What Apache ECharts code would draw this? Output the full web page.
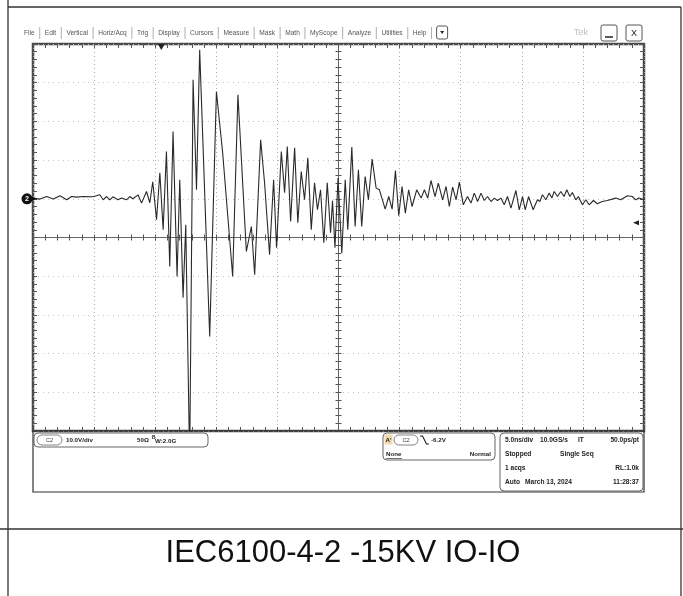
<!DOCTYPE html>
<html><head><meta charset="utf-8">
<script src="https://cdn.jsdelivr.net/npm/echarts@6/dist/echarts.min.js"></script>
<style>html,body{margin:0;padding:0;background:#fff}#c{width:683px;height:596px}</style>
</head><body><div id="c"></div>
<script>
// ---- waveform (time in ns relative to screen centre, volts relative to CH2 ground) ----
const timeNs = [
 -25.0,-24.43,-23.88,-23.34,-22.79,-22.25,-21.84,-21.43,-20.89,-20.10,
 -19.53,-19.26,-18.98,-18.71,-18.46,-18.05,-17.75,-17.35,-17.08,-16.83,
 -16.40,-16.12,-15.71,-15.44,-15.20,-14.89,-14.62,-14.35,-14.08,-13.81,
 -13.54,-13.21,-12.99,-12.72,-12.50,-12.18,-11.90,-11.62,-11.36,-10.54,
 -9.99,-9.48,-8.66,-8.23,-7.54,-7.13,-6.86,-6.37,-6.05,-5.64,
 -5.31,-5.07,-4.68,-4.41,-4.19,-3.92,-3.59,-3.33,-3.05,-2.78,
 -2.51,-2.23,-1.96,-1.72,-1.47,-1.20,-0.92,-0.65,-0.49,-0.29,
 -0.04,0.27,0.55,0.76,1.09,1.36,1.63,1.90,2.18,2.45,
 2.75,3.08,3.35,3.82,4.11,4.39,4.66,4.93,5.20,5.47,
 5.74,6.02,6.40,6.76,7.03,7.30,7.57,7.90,8.17,8.52,
 8.80,9.07,9.34,9.62,9.89,10.21,10.56,10.84,11.11,11.38,
 11.66,11.93,12.20,12.48,12.75,13.01,13.29,13.56,13.83,14.11,
 14.52,14.79,15.06,15.28,15.55,15.93,16.28,16.48,16.69,16.97,
 17.24,17.46,17.65,17.92,18.19,18.46,18.68,18.93,19.14,19.42,
 19.63,19.96,20.24,20.51,20.86,21.18,21.59,22.00,22.69,23.10,
 23.64,24.04,24.32,24.59,25.0
];
const voltsV = [
 0.18,-0.08,0.59,-0.08,0.78,-0.26,0.59,0.44,0.59,0.52,
 1.03,-0.26,0.59,-0.26,0.52,-0.26,0.18,-0.26,0.59,0.0,
 1.03,-1.11,1.89,-1.03,4.39,-5.43,6.72,-8.01,12.22,-17.49,
 17.39,-20.08,4.91,-25.58,-6.72,-68,30.75,2.33,38.50,-35.58,
 27.73,11.89,-20.08,26.87,-13.62,-7.16,-19.64,15.25,4.13,-14.47,
 4.91,-12.66,12.22,1.55,13.51,-5.87,13.18,-6.20,7.05,-0.26,
 10.59,-8.01,4.13,-2.84,2.33,-11.37,4.13,-8.79,-0.52,-12.66,
 5.35,-14.03,4.91,-8.01,13.36,-7.16,7.49,-7.16,5.76,-0.26,
 10.26,2.76,2.33,-2.66,0.59,-2.66,7.31,-4.39,3.18,-3.70,
 2.33,-1.99,2.33,0.18,2.33,0.18,4.73,0.59,4.06,-0.26,
 3.18,-1.99,3.02,-0.26,4.32,-1.55,0.59,-1.11,1.47,-0.70,
 1.47,-0.44,0.59,-0.70,0.18,-0.44,0.18,-1.55,0.59,-2.40,
 2.14,-2.84,0.59,-2.84,0.59,-2.84,-0.26,-0.70,1.03,-0.26,
 1.47,0.18,1.89,0.59,1.89,0.59,2.33,0.59,1.63,-0.26,
 0.59,-1.55,-0.26,-1.55,-0.44,-1.29,-0.70,-0.44,0.18,-0.26,
 0.78,0.59,-0.26,0.18,-0.26
];
const trigLevelV = -6.2;
const trigPosNs = -14.5;
const timeRange = [-25, 25];      // 5.0 ns/div, 10 div
const voltRange = [-60, 40];      // 10.0 V/div, ground 1 div above centre
const menuItems = ['File','Edit','Vertical','Horiz/Acq','Trig','Display','Cursors','Measure','Mask','Math','MyScope','Analyze','Utilities','Help'];
const chText = ['C2','10.0V/div','50Ω','B','W:2.0G'];
const trigText = ["A'",'C2','-6.2V','None','Normal'];
const acqRows = [
  ['5.0ns/div','10.0GS/s','IT','50.0ps/pt'],
  ['Stopped','Single Seq'],
  ['1 acqs','RL:1.0k'],
  ['Auto','March 13, 2024','11:28:37']
];
const titleText = 'IEC6100-4-2 -15KV IO-IO';

// ---- build ----
const seriesData = timeNs.map((t, i) => [t, voltsV[i]]);
const tickStyle = {color: '#555', width: 1};
const gridDotV = {color: '#a8a8a8', width: 1, type: [1, 3]};
const gridDotH = {color: '#c4c4c4', width: 1, type: [1, 4]};

function edgeAxis(range, interval, pos, split) {
  return {type: 'value', min: range[0], max: range[1], interval: interval, position: pos,
    axisLine: {show: false, onZero: false},
    axisTick: {show: true, inside: true, length: 4, lineStyle: tickStyle},
    minorTick: {show: true, splitNumber: 5, length: 4, lineStyle: tickStyle},
    axisLabel: {show: false},
    splitLine: {show: !!split, lineStyle: split || gridDotV}};
}
function centreAxis(range, interval, pos, inside, zeroIdx) {
  return {type: 'value', min: range[0], max: range[1], interval: interval, position: pos,
    axisLine: {show: true, onZero: true, onZeroAxisIndex: zeroIdx, lineStyle: {color: '#666', width: 1}},
    axisTick: {show: true, inside: inside, length: 3, lineStyle: tickStyle},
    minorTick: {show: true, splitNumber: 5, length: 3, lineStyle: tickStyle},
    axisLabel: {show: false}, splitLine: {show: false}};
}

const mctx = document.createElement('canvas').getContext('2d');
function tw(s, font) { mctx.font = font; return mctx.measureText(s).width; }
function txt(x, y, s, font, fill, align) {
  return {type: 'text', x: x, y: y, silent: true, z: 10,
    style: {text: s, font: font, fill: fill || '#222', align: align || 'left', textAlign: align || 'left',
      verticalAlign: 'middle', textVerticalAlign: 'middle'}};
}
function rect(x, y, w, h, r, stroke, fill, lw) {
  return {type: 'rect', shape: {x: x, y: y, width: w, height: h, r: r}, silent: true, z: 9,
    style: {stroke: stroke, fill: fill || 'none', lineWidth: lw || 1}};
}
function line(x1, y1, x2, y2, stroke, lw) {
  return {type: 'line', shape: {x1: x1, y1: y1, x2: x2, y2: y2}, silent: true, z: 9,
    style: {stroke: stroke, lineWidth: lw || 1}};
}

const deco = [];
// outer table
deco.push(line(8, 0, 8, 596, '#333', 1.3));
deco.push(line(8, 7, 681, 7, '#333', 1.3));
deco.push(line(681, 7, 681, 596, '#333', 1.3));
deco.push(line(0, 529, 683, 529, '#333', 1.3));
// screenshot lower frame
deco.push(rect(33, 431, 611, 61, 0, '#333', 'none', 1.2));

// menu bar
const menuFont = '6.6px "Liberation Sans"';
let mx = 24;
menuItems.forEach(m => {
  deco.push(txt(mx, 33, m, menuFont, '#555'));
  mx += tw(m, menuFont) + 5.1;
  deco.push(line(mx, 27, mx, 39, '#999', 0.8));
  mx += 5.1;
});
deco.push(rect(mx, 26, 11, 13, 2, '#555', 'none', 1));
deco.push({type: 'polygon', silent: true, z: 10, shape: {points: [[mx + 3.5, 31], [mx + 7.5, 31], [mx + 5.5, 34]]}, style: {fill: '#222'}});
deco.push(txt(574, 33, 'Tek', '9px "Liberation Sans"', '#bdbdbd'));
deco.push(rect(601, 25, 16, 16, 2, '#555', 'none', 1));
deco.push(line(605, 37, 613, 37, '#222', 1.5));
deco.push(rect(626, 25, 16, 16, 2, '#555', 'none', 1));
deco.push(txt(634, 33.5, 'X', '9px "Liberation Sans"', '#222', 'center'));

// status: channel box
const sFont = 'bold 6.2px "Liberation Sans"';
deco.push(rect(34, 433, 174, 14, 4, '#666', 'none', 1));
deco.push(rect(37, 435, 25, 10, 5, '#666', 'none', 0.8));
deco.push(txt(49.5, 440, chText[0], '5.5px "Liberation Sans"', '#333', 'center'));
deco.push(txt(66, 440, chText[1], sFont));
deco.push(txt(137, 440, chText[2], sFont));
deco.push(txt(152, 437.5, chText[3], 'bold 5px "Liberation Sans"'));
deco.push(txt(155, 441, chText[4], sFont));

// status: trigger box
deco.push(rect(383, 433, 112, 27, 4, '#666', 'none', 1));
deco.push(rect(384.5, 434.5, 8, 10, 0, 'none', '#f2d8b0', 0));
deco.push(txt(385.5, 440, trigText[0], sFont));
deco.push(rect(394, 435, 24, 10, 5, '#666', 'none', 0.8));
deco.push(txt(406, 440, trigText[1], '5.5px "Liberation Sans"', '#333', 'center'));
deco.push({type: 'polyline', silent: true, z: 10, shape: {points: [[420, 436], [422.5, 436], [426.5, 444], [429, 444]]}, style: {stroke: '#222', lineWidth: 1.1, fill: 'none'}});
deco.push(txt(431, 440, trigText[2], sFont));
deco.push(txt(386, 454, trigText[3], sFont));
deco.push(line(386, 458.5, 402, 458.5, '#333', 0.7));
deco.push(txt(491, 454, trigText[4], sFont, '#222', 'right'));

// status: acquisition box
const aFont = 'bold 6.6px "Liberation Sans"';
deco.push(rect(500, 433, 143, 58, 4, '#666', 'none', 1));
const rowY = [440, 454, 468, 482.5];
deco.push(txt(505, rowY[0], acqRows[0][0], aFont));
deco.push(txt(540, rowY[0], acqRows[0][1], aFont));
deco.push(txt(578, rowY[0], acqRows[0][2], aFont));
deco.push(txt(639, rowY[0], acqRows[0][3], aFont, '#222', 'right'));
deco.push(txt(505, rowY[1], acqRows[1][0], aFont));
deco.push(txt(560, rowY[1], acqRows[1][1], aFont));
deco.push(txt(505, rowY[2], acqRows[2][0], aFont));
deco.push(txt(639, rowY[2], acqRows[2][1], aFont, '#222', 'right'));
deco.push(txt(505, rowY[3], acqRows[3][0], aFont));
deco.push(txt(525, rowY[3], acqRows[3][1], aFont));
deco.push(txt(639, rowY[3], acqRows[3][2], aFont, '#222', 'right'));

// title cell
deco.push(txt(343, 553, titleText, '31px "Liberation Sans"', '#111', 'center'));

const option = {
  animation: false,
  backgroundColor: '#fff',
  grid: {left: 33, top: 44, width: 611, height: 387, show: true, borderColor: '#4a4a4a', borderWidth: 2.5, backgroundColor: '#fff'},
  xAxis: [
    edgeAxis(timeRange, 5, 'bottom', gridDotV),
    edgeAxis(timeRange, 5, 'top', null),
    centreAxis(timeRange, 5, 'bottom', true, 1),
    centreAxis(timeRange, 5, 'bottom', false, 1)
  ],
  yAxis: [
    edgeAxis(voltRange, 10, 'left', gridDotH),
    edgeAxis([-5, 5], 1, 'right', null),
    centreAxis([-5, 5], 1, 'left', true, 0),
    centreAxis([-5, 5], 1, 'left', false, 0)
  ],
  series: [{
    type: 'line', xAxisIndex: 0, yAxisIndex: 0, data: seriesData,
    symbol: 'none', clip: true, smooth: false,
    lineStyle: {color: '#2a2a2a', width: 1.1},
    markPoint: {
      silent: true,
      data: [
        {coord: [timeRange[0], 0], symbol: 'circle', symbolSize: 11, symbolOffset: [-6, 0],
          itemStyle: {color: '#111'}, label: {show: true, formatter: '2', color: '#fff', fontSize: 7, fontWeight: 'bold'}},
        {coord: [timeRange[0], 0], symbol: 'triangle', symbolRotate: -90, symbolSize: [5, 5], symbolOffset: [1, 0],
          itemStyle: {color: '#111'}, label: {show: false}},
        {coord: [timeRange[1], trigLevelV], symbol: 'triangle', symbolRotate: 90, symbolSize: [5, 6], symbolOffset: [-8, 0],
          itemStyle: {color: '#222'}, label: {show: false}},
        {coord: [trigPosNs, voltRange[1]], symbol: 'triangle', symbolRotate: 180, symbolSize: [7, 6], symbolOffset: [0, 3],
          itemStyle: {color: '#222'}, label: {show: false}}
      ]
    }
  }],
  graphic: deco
};
const chart = echarts.init(document.getElementById('c'), null, {renderer: 'canvas'});
chart.setOption(option);
</script></body></html>
